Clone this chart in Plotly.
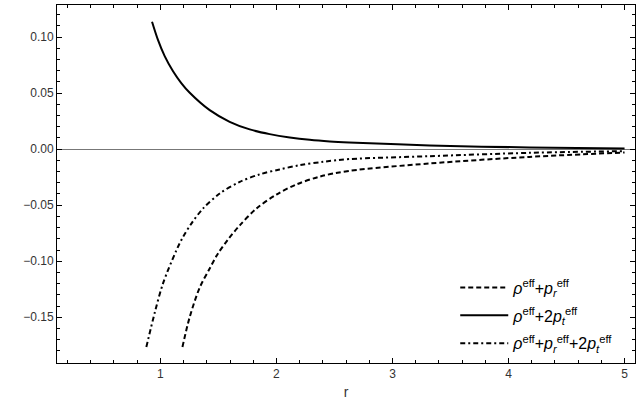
import plotly.graph_objects as go

# ---- data ----
r_solid = [0.928, 0.979, 1.037, 1.109, 1.18, 1.253, 1.425, 1.597, 1.77, 1.942, 2.115, 2.287, 2.46, 2.626, 3.32, 4.18, 5.0]
y_solid = [0.1137, 0.0975, 0.0830, 0.0695, 0.0590, 0.0503, 0.0348, 0.0244, 0.0176, 0.0134, 0.0104, 0.0083, 0.0069, 0.0060, 0.0033, 0.0015, 0.0006]

r_dash = [1.19, 1.253, 1.339, 1.425, 1.494, 1.583, 1.684, 1.828, 2.0, 2.172, 2.373, 2.626, 3.32, 4.18, 5.0]
y_dash = [-0.1765, -0.1497, -0.1235, -0.1065, -0.0935, -0.0806, -0.0680, -0.0530, -0.0405, -0.0315, -0.0245, -0.0194, -0.0128, -0.0069, -0.0030]

r_dd = [0.879, 0.951, 1.022, 1.138, 1.195, 1.267, 1.367, 1.511, 1.684, 1.856, 2.028, 2.201, 2.402, 2.626, 3.32, 4.18, 5.0]
y_dd = [-0.1765, -0.1460, -0.1200, -0.0902, -0.0783, -0.0664, -0.0530, -0.0396, -0.0292, -0.0225, -0.0181, -0.0143, -0.0113, -0.0089, -0.0063, -0.0033, -0.0018]

names = [
    "<i>ρ</i><sup>eff</sup>+<i>p</i><sub><i>r</i></sub><sup>eff</sup>",
    "<i>ρ</i><sup>eff</sup>+2<i>p</i><sub><i>t</i></sub><sup>eff</sup>",
    "<i>ρ</i><sup>eff</sup>+<i>p</i><sub><i>r</i></sub><sup>eff</sup>+2<i>p</i><sub><i>t</i></sub><sup>eff</sup>",
]

x_ticks = [1, 2, 3, 4, 5]
y_ticks = [-0.15, -0.10, -0.05, 0.0, 0.05, 0.10]

fig = go.Figure()
fig.add_trace(go.Scatter(x=r_dash, y=y_dash, mode="lines", name=names[0], legendgroup="a",
                         line=dict(color="black", width=2, dash="5px,3px", shape="spline", smoothing=0.9)))
fig.add_trace(go.Scatter(x=r_solid, y=y_solid, mode="lines", name=names[1], legendgroup="b",
                         line=dict(color="black", width=2, shape="spline", smoothing=0.9)))
fig.add_trace(go.Scatter(x=r_dd, y=y_dd, mode="lines", name=names[2], legendgroup="c",
                         line=dict(color="black", width=2, dash="5px,3px,2px,3px", shape="spline", smoothing=0.9)))

tick_font = dict(family="Liberation Sans, Arial", size=12, color="#333")
axis_common = dict(
    showline=True, linecolor="black", linewidth=1, mirror="allticks",
    ticks="inside", tickcolor="black", ticklen=5, tickwidth=1,
    showgrid=False, tickfont=tick_font,
)

fig.update_xaxes(range=[0.109, 5.09], tickvals=x_ticks,
                 minor=dict(dtick=0.2, ticks="inside", ticklen=3, tickcolor="black", showgrid=False),
                 zeroline=False,
                 title=dict(text="r", font=dict(family="Liberation Sans, Arial", size=14, color="#333"),
                            standoff=6),
                 **axis_common)
fig.update_yaxes(range=[-0.1908, 0.1286], tickvals=y_ticks, tickformat=".2f",
                 minor=dict(dtick=0.01, ticks="inside", ticklen=3, tickcolor="black", showgrid=False),
                 zeroline=True, zerolinecolor="#777", zerolinewidth=1,
                 **axis_common)

fig.update_layout(
    width=643, height=408,
    margin=dict(l=57, r=8, t=5, b=45),
    paper_bgcolor="white", plot_bgcolor="white",
    showlegend=True,
    legend=dict(x=0.689, y=0.258, xanchor="left", yanchor="top",
                bgcolor="rgba(0,0,0,0)", itemwidth=48,
                font=dict(family="Liberation Sans, Arial", size=16, color="black"),
                tracegroupgap=4),
)

fig.write_html("out.html", config={"displayModeBar": False},
               post_script="document.body.style.margin='0';")
